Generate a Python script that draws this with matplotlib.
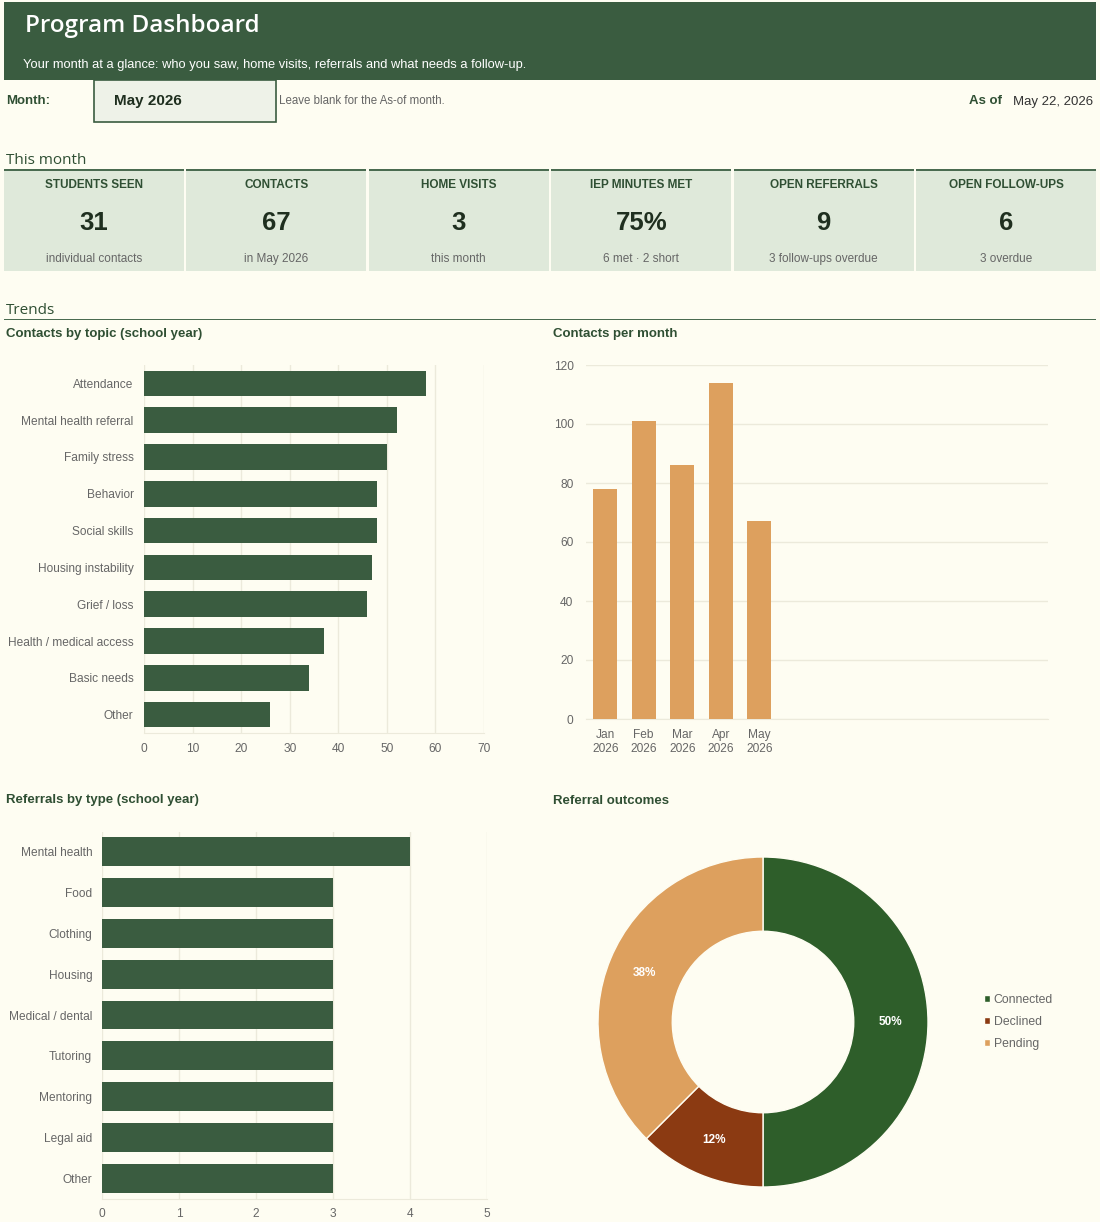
import matplotlib
matplotlib.use("Agg")
import matplotlib.pyplot as plt
from matplotlib.patches import Rectangle
import numpy as np

# --- data ---
kpi_labels = ["STUDENTS SEEN", "CONTACTS", "HOME VISITS", "IEP MINUTES MET", "OPEN REFERRALS", "OPEN FOLLOW-UPS"]
kpi_values = ["31", "67", "3", "75%", "9", "6"]
kpi_notes = ["individual contacts", "in May 2026", "this month", "6 met \u00b7 2 short", "3 follow-ups overdue", "3 overdue"]

topics = ["Attendance", "Mental health referral", "Family stress", "Behavior", "Social skills",
          "Housing instability", "Grief / loss", "Health / medical access", "Basic needs", "Other"]
topic_counts = [58, 52, 50, 48, 48, 47, 46, 37, 34, 26]

months = ["Jan\n2026", "Feb\n2026", "Mar\n2026", "Apr\n2026", "May\n2026"]
month_counts = [78, 101, 86, 114, 67]
n_month_slots = 12

ref_types = ["Mental health", "Food", "Clothing", "Housing", "Medical / dental",
             "Tutoring", "Mentoring", "Legal aid", "Other"]
ref_counts = [4, 3, 3, 3, 3, 3, 3, 3, 3]

outcomes = ["Connected", "Declined", "Pending"]
outcome_counts = [4, 1, 3]

# --- style ---
W, H = 1100, 1222
BG = "#FEFDF2"
GREEN = "#3A5C40"
DARK = "#2F4F33"
CARD = "#DFE9DA"
GRAY = "#666666"
GRID = "#ECEADB"
ORANGE = "#DDA05E"
OUT_COLORS = ["#2E5E2A", "#8B3A12", "#DDA05E"]
SANS = "Liberation Sans"
HUM = "Open Sans"

plt.rcParams["font.family"] = [SANS, "DejaVu Sans"]

fig = plt.figure(figsize=(W / 100, H / 100), dpi=100, facecolor=BG)


def px_axes(x, y, w, h):
    return fig.add_axes([x / W, 1 - (y + h) / H, w / W, h / H])


def fx(x):
    return x / W


def fy(y):
    return 1 - y / H


def rect(x, y, w, h, **kw):
    fig.patches.append(Rectangle((fx(x), fy(y + h)), w / W, h / H,
                                 transform=fig.transFigure, **kw))


# header
rect(4, 2, 1092, 78, facecolor=GREEN, edgecolor="none")
fig.text(fx(25), fy(26), "Program Dashboard", color="white", fontsize=17.5,
         fontweight="semibold", family=HUM, va="center")
fig.text(fx(23), fy(65), "Your month at a glance: who you saw, home visits, referrals and what needs a follow-up.",
         color="white", fontsize=9.3, va="center")

# month row
fig.text(fx(6), fy(101), "Month:", color=DARK, fontsize=9.5, fontweight="bold", va="center")
rect(94, 80, 182, 42, facecolor="#EEF2E8", edgecolor=GREEN, linewidth=1.2)
fig.text(fx(114), fy(100.5), "May 2026", color="#1F2F1F", fontsize=11, fontweight="bold", va="center")
fig.text(fx(279), fy(101.5), "Leave blank for the As-of month.", color=GRAY, fontsize=8.3, va="center")
fig.text(fx(1002), fy(101.5), "As of", color=DARK, fontsize=9.5, fontweight="bold", va="center", ha="right")
fig.text(fx(1093), fy(101.5), "May 22, 2026", color="#333333", fontsize=9.5, va="center", ha="right")

# This month
fig.text(fx(6), fy(160), "This month", color=DARK, fontsize=11, family=HUM, va="center")
card_w = 180
gap = 2.4
for i, (lab, val, note) in enumerate(zip(kpi_labels, kpi_values, kpi_notes)):
    x0 = 4 + i * (card_w + gap)
    rect(x0, 170, card_w, 101, facecolor=CARD, edgecolor="none")
    rect(x0, 169, card_w, 2, facecolor="#4A6B50", edgecolor="none")
    cx = fx(x0 + card_w / 2)
    fig.text(cx, fy(184.5), lab, color=DARK, fontsize=8.5, fontweight="bold", ha="center", va="center")
    fig.text(cx, fy(222.5), val, color="#1F2F1F", fontsize=18.5, fontweight="bold", ha="center", va="center")
    fig.text(cx, fy(259), note, color=GRAY, fontsize=8.5, ha="center", va="center")

# Trends
fig.text(fx(6), fy(310), "Trends", color=DARK, fontsize=11, family=HUM, va="center")
rect(4, 318.5, 1092, 1.5, facecolor="#4A6B50", edgecolor="none")
fig.text(fx(6), fy(334.5), "Contacts by topic (school year)", color=DARK, fontsize=9.5, fontweight="bold", va="center")
fig.text(fx(553), fy(334.5), "Contacts per month", color=DARK, fontsize=9.5, fontweight="bold", va="center")
fig.text(fx(6), fy(800.5), "Referrals by type (school year)", color=DARK, fontsize=9.5, fontweight="bold", va="center")
fig.text(fx(553), fy(800.5), "Referral outcomes", color=DARK, fontsize=9.5, fontweight="bold", va="center")


def style_hbar(ax, labels, values, xmax, step, height):
    ax.set_facecolor(BG)
    ypos = range(len(labels))
    ax.barh(ypos, values, height=height, color=GREEN, zorder=3)
    ax.set_yticks(list(ypos))
    ax.set_yticklabels(labels)
    ax.set_ylim(len(labels) - 0.5, -0.5)
    ax.set_xlim(0, xmax)
    ax.set_xticks(range(0, xmax + 1, step))
    ax.grid(axis="x", color=GRID, linewidth=1, zorder=0)
    for s in ax.spines.values():
        s.set_visible(False)
    ax.spines["bottom"].set_visible(True)
    ax.spines["bottom"].set_color(GRID)
    ax.tick_params(length=0, colors=GRAY, labelsize=8.6)
    ax.tick_params(axis="y", pad=7.5)
    ax.tick_params(axis="x", pad=7)


ax1 = px_axes(144, 365, 340, 368)
style_hbar(ax1, topics, topic_counts, 70, 10, 0.7)

ax3 = px_axes(102, 831.5, 385, 367)
style_hbar(ax3, ref_types, ref_counts, 5, 1, 0.71)
ax3.tick_params(axis="y", pad=7)

# column chart
ax2 = px_axes(586, 365, 462, 354)
ax2.set_facecolor(BG)
ax2.bar(range(len(months)), month_counts, width=0.62, color=ORANGE, zorder=3)
ax2.set_xlim(-0.5, n_month_slots - 0.5)
ax2.set_ylim(0, 120)
ax2.set_yticks(range(0, 121, 20))
ax2.set_xticks(range(len(months)))
ax2.set_xticklabels(months, linespacing=1.25)
ax2.grid(axis="y", color=GRID, linewidth=1, zorder=0)
for s in ax2.spines.values():
    s.set_visible(False)
ax2.spines["bottom"].set_visible(True)
ax2.spines["bottom"].set_color(GRID)
ax2.tick_params(length=0, colors=GRAY, labelsize=8.6)
ax2.tick_params(axis="y", pad=9)
ax2.tick_params(axis="x", pad=7)

# donut
ax4 = px_axes(763 - 165, 1022 - 165, 330, 330)
ax4.set_facecolor(BG)
total = sum(outcome_counts)
wedges, _ = ax4.pie(outcome_counts, colors=OUT_COLORS, startangle=90, counterclock=False,
                    radius=1, wedgeprops=dict(width=0.45, edgecolor=BG, linewidth=1))
acc = 0
for v in outcome_counts:
    mid = (acc + v / 2) / total
    ang = np.deg2rad(90 - 360 * mid)
    r = 0.775
    ax4.text(r * np.cos(ang), r * np.sin(ang), f"{round(v / total * 100)}%", color="white",
             fontsize=8.5, fontweight="bold", ha="center", va="center")
    acc += v
ax4.set_xlim(-1, 1)
ax4.set_ylim(-1, 1)
ax4.set_aspect("equal")
ax4.axis("off")

leg = fig.legend(wedges, outcomes, loc="center left", bbox_to_anchor=(fx(979), fy(1022)),
                 frameon=False, fontsize=8.8, handlelength=0.5, handleheight=0.5,
                 handletextpad=0.3, labelspacing=0.8, borderaxespad=0)
for t in leg.get_texts():
    t.set_color(GRAY)

fig.savefig("out.png", dpi=100, facecolor=BG)
